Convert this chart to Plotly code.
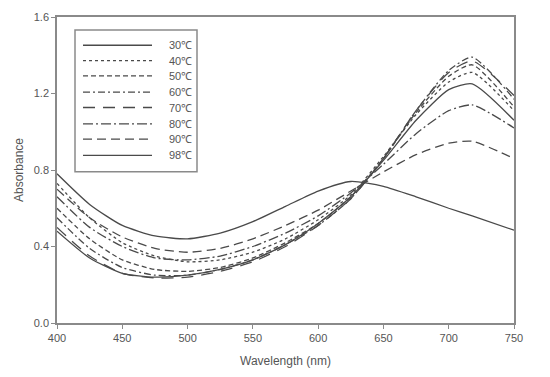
import plotly.graph_objects as go

wavelength = [400, 425, 450, 475, 500, 525, 550, 575, 600, 625, 650, 675, 700, 718, 750]

labels = ["30℃", "40℃", "50℃", "60℃", "70℃", "80℃", "90℃", "98℃"]

abs_30 = [0.78, 0.62, 0.51, 0.455, 0.44, 0.47, 0.53, 0.61, 0.69, 0.74, 0.715, 0.66, 0.60, 0.56, 0.485]
abs_40 = [0.73, 0.55, 0.42, 0.35, 0.32, 0.33, 0.37, 0.44, 0.54, 0.67, 0.87, 1.09, 1.26, 1.31, 1.11]
abs_50 = [0.60, 0.44, 0.33, 0.28, 0.27, 0.29, 0.34, 0.42, 0.52, 0.66, 0.86, 1.10, 1.29, 1.35, 1.13]
abs_60 = [0.55, 0.39, 0.29, 0.25, 0.25, 0.28, 0.33, 0.41, 0.51, 0.65, 0.86, 1.11, 1.32, 1.39, 1.17]
abs_70 = [0.50, 0.35, 0.26, 0.235, 0.24, 0.27, 0.32, 0.40, 0.51, 0.65, 0.86, 1.11, 1.31, 1.37, 1.19]
abs_80 = [0.66, 0.50, 0.40, 0.34, 0.33, 0.35, 0.40, 0.47, 0.56, 0.68, 0.83, 0.99, 1.11, 1.14, 1.02]
abs_90 = [0.70, 0.55, 0.45, 0.39, 0.37, 0.39, 0.44, 0.51, 0.59, 0.69, 0.79, 0.88, 0.94, 0.95, 0.86]
abs_98 = [0.48, 0.34, 0.26, 0.24, 0.25, 0.28, 0.33, 0.41, 0.52, 0.66, 0.85, 1.06, 1.22, 1.25, 1.06]

series = [abs_30, abs_40, abs_50, abs_60, abs_70, abs_80, abs_90, abs_98]
dashes = ["solid", "dot", "5px,3px", "7px,3px,2px,3px", "12px,8px", "10px,3px,2px,3px", "9px,5px", "solid"]

LINE = "#4a4a4a"
GRID = "#8a8a8a"
FONT = "Liberation Sans, Arial, sans-serif"

fig = go.Figure()
for lab, ys, d in zip(labels, series, dashes):
    fig.add_trace(go.Scatter(x=wavelength, y=ys, mode="lines", name=lab,
                             line=dict(color=LINE, width=1.3, dash=d, shape="spline", smoothing=0.6),
                             showlegend=False))

# plot area geometry (px)
L, R, T, B = 57, 514, 10.5, 330
W, H = R - L, B - T
def px(x):
    return (x - L) / W
def py(y):
    return (B - y) / H

shapes = []
annotations = []
# legend box
shapes.append(dict(type="rect", xref="paper", yref="paper",
                   x0=px(75), x1=px(197), y0=py(172), y1=py(24),
                   line=dict(color=GRID, width=1.5), fillcolor="white", layer="above"))
row_y = [40, 56, 72, 89, 105, 122, 138, 155]
for lab, d, ry in zip(labels, dashes, row_y):
    shapes.append(dict(type="line", xref="paper", yref="paper",
                       x0=px(83), x1=px(152), y0=py(ry), y1=py(ry),
                       line=dict(color=LINE, width=1.3, dash=d), layer="above"))
    annotations.append(dict(x=px(167), y=py(ry), xref="paper", yref="paper",
                            text=lab, showarrow=False, xanchor="left", yanchor="middle",
                            font=dict(family=FONT, size=11, color="#555555")))

fig.update_layout(
    width=550, height=377,
    margin=dict(l=L, r=550 - R, t=T, b=377 - B),
    paper_bgcolor="white", plot_bgcolor="white",
    font=dict(family=FONT, size=11, color="#555555"),
    shapes=shapes, annotations=annotations,
    xaxis=dict(range=[400, 750], tickvals=[400, 450, 500, 550, 600, 650, 700, 750],
               showline=True, linecolor=GRID, linewidth=1.5, mirror=True,
               ticks="outside", ticklen=4, tickcolor=GRID, showgrid=False, zeroline=False,
               title=dict(text="Wavelength (nm)", standoff=14, font=dict(size=12))),
    yaxis=dict(range=[0, 1.6], tickvals=[0, 0.4, 0.8, 1.2, 1.6],
               ticktext=["0.0", "0.4", "0.8", "1.2", "1.6"],
               showline=True, linecolor=GRID, linewidth=1.5, mirror=True,
               ticks="outside", ticklen=4, tickcolor=GRID, showgrid=False, zeroline=False,
               title=dict(text="Absorbance", standoff=8, font=dict(size=12))),
)

fig.write_html("out.html")
